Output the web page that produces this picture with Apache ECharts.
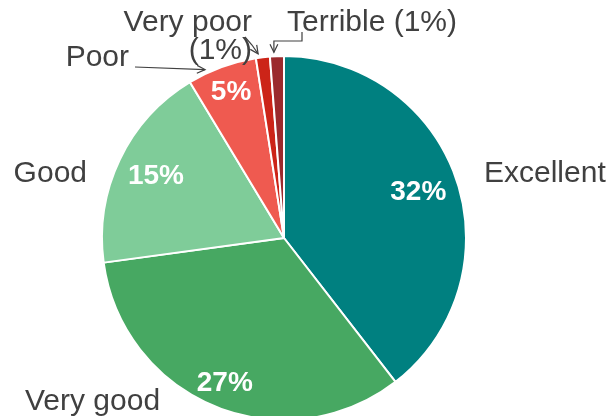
<!DOCTYPE html>
<html>
<head>
<meta charset="utf-8">
<script src="https://cdn.jsdelivr.net/npm/echarts@6/dist/echarts.min.js"></script>
<style>
html, body { margin: 0; padding: 0; background: #fff; }
#pie { width: 608px; height: 416px; }
</style>
</head>
<body>
<div id="pie"></div>
<script>
// data
var categories = ['Excellent', 'Very good', 'Good', 'Poor', 'Very poor', 'Terrible'];
var values = [32, 27, 15, 5, 1, 1];
var outerLabels = ['Excellent', 'Very good', 'Good', 'Poor', 'Very poor\n(1%)', 'Terrible (1%)'];
var showPercent = [true, true, true, true, false, false];

var colors = ['#008080', '#47a862', '#7fcc99', '#ef5a50', '#cc2418', '#9b2a2d'];

// geometry of the pie
var cx = 284, cy = 238, R = 182;
var total = values.reduce(function (a, b) { return a + b; }, 0);

// angle (deg from 12 o'clock, clockwise) at a fraction inside slice i
function angleAt(i, frac) {
    var before = 0;
    for (var k = 0; k < i; k++) before += values[k];
    return (before + values[i] * frac) / total * 360;
}
function pt(a, r) {
    var rad = a * Math.PI / 180;
    return [cx + r * Math.sin(rad), cy - r * Math.cos(rad)];
}

// where the outer name labels sit: x, y, align
var labelPos = [
    [484, 174, 'left'],
    [25, 402, 'left'],
    [87, 174, 'right'],
    [129, 58, 'right'],
    [252, 37, 'right'],
    [287, 23, 'left']
];
// percent label distance from center (fraction of R)
var innerDist = [0.78, 0.86, 0.78, 0.85, 0, 0];
// where the arrows point inside the slice (null = no arrow)
var arrowFrac = [null, null, null, 0.27, 0.2, 0.3];

function linePoints(i) {
    if (arrowFrac[i] == null) return null;
    var tip = pt(angleAt(i, arrowFrac[i]), R + 4);
    if (i === 3) return [tip, [135, 67]];
    if (i === 4) return [tip, [252, 45], [245, 37]];
    return [tip, [tip[0], 41], [302, 41], [302, 32]];
}

// open arrowheads at the tip of each line
var arrows = [];
for (var i = 0; i < values.length; i++) {
    var pts = linePoints(i);
    if (!pts) continue;
    var tip = pts[0], from = pts[1];
    var ang = Math.atan2(tip[1] - from[1], tip[0] - from[0]);
    var len = 9, spread = 0.45;
    arrows.push({
        type: 'polyline',
        silent: true,
        z: 100,
        shape: {
            points: [
                [tip[0] - len * Math.cos(ang - spread), tip[1] - len * Math.sin(ang - spread)],
                tip,
                [tip[0] - len * Math.cos(ang + spread), tip[1] - len * Math.sin(ang + spread)]
            ]
        },
        style: { stroke: '#404040', lineWidth: 1.2, fill: null }
    });
}

var pieData = categories.map(function (c, i) {
    return {
        name: c,
        value: values[i],
        itemStyle: { color: colors[i] },
        labelLine: { show: arrowFrac[i] != null }
    };
});
var ringData = categories.map(function (c, i) {
    return {
        name: c,
        value: values[i],
        label: { show: showPercent[i] }
    };
});

var chart = echarts.init(document.getElementById('pie'));
chart.setOption({
    animation: false,
    graphic: arrows,
    series: [
        {
            name: 'rating',
            type: 'pie',
            center: [cx, cy],
            radius: [0, R],
            startAngle: 90,
            clockwise: true,
            silent: true,
            itemStyle: { borderColor: '#fff', borderWidth: 2 },
            label: {
                show: true,
                position: 'outside',
                overflow: 'none',
                formatter: function (p) { return outerLabels[p.dataIndex]; },
                fontFamily: 'Liberation Sans, Arial, sans-serif',
                fontSize: 30,
                lineHeight: 28,
                color: '#404040'
            },
            labelLine: {
                lineStyle: { color: '#404040', width: 1.2 },
                smooth: false
            },
            labelLayout: function (p) {
                var i = p.dataIndex;
                var out = {
                    x: labelPos[i][0],
                    y: labelPos[i][1],
                    align: labelPos[i][2],
                    verticalAlign: 'middle',
                    moveOverlap: false
                };
                var lp = linePoints(i);
                if (lp) out.labelLinePoints = lp;
                return out;
            },
            data: pieData
        },
        {
            name: 'percent',
            type: 'pie',
            center: [cx, cy],
            radius: [0, R],
            startAngle: 90,
            clockwise: true,
            silent: true,
            z: 3,
            itemStyle: { color: 'rgba(0,0,0,0)', borderWidth: 0 },
            label: {
                position: 'inside',
                formatter: function (p) { return p.value + '%'; },
                fontFamily: 'Liberation Sans, Arial, sans-serif',
                fontWeight: 'bold',
                fontSize: 28,
                color: '#fff'
            },
            labelLine: { show: false },
            labelLayout: function (p) {
                var i = p.dataIndex;
                var q = pt(angleAt(i, 0.5), R * innerDist[i]);
                return { x: q[0], y: q[1], align: 'center', verticalAlign: 'middle' };
            },
            data: ringData
        }
    ]
});
</script>
</body>
</html>
